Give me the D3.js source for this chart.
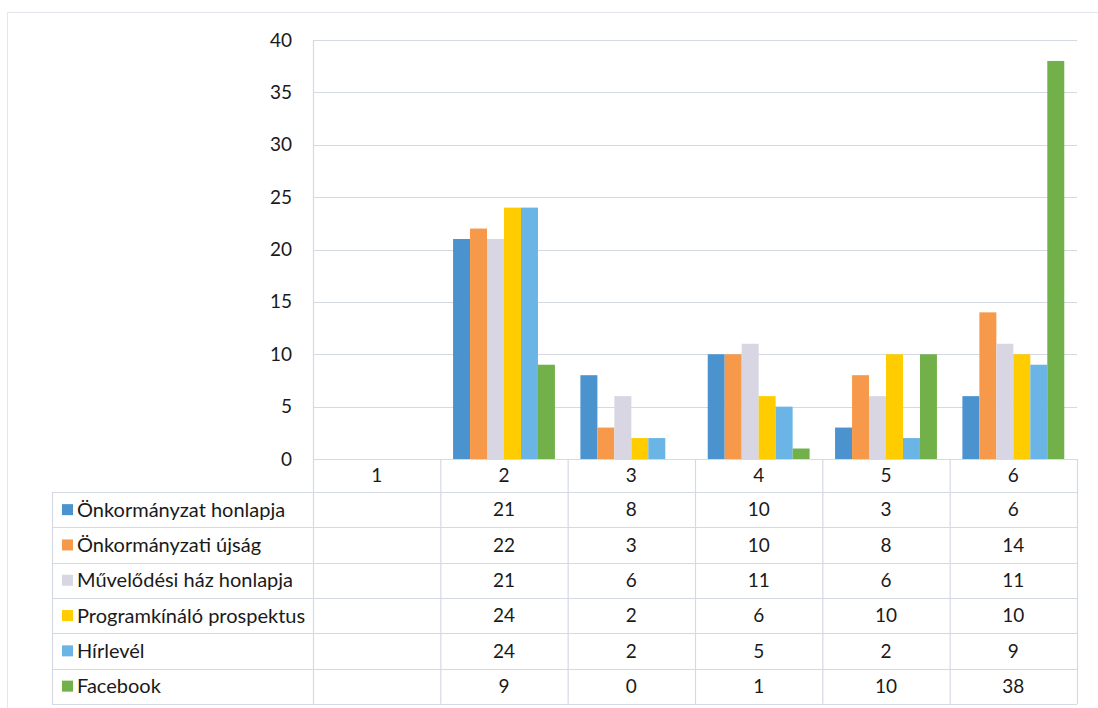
<!DOCTYPE html>
<html>
<head>
<meta charset="utf-8">
<script src="https://cdn.jsdelivr.net/npm/d3@7"></script>
<style>
  html, body { margin: 0; padding: 0; background: #ffffff; }
  svg { display: block; }
  text { font-family: Lato, "Open Sans", sans-serif; fill: #1a1a1a; }
</style>
</head>
<body>
<svg id="chart" width="1098" height="708"></svg>
<script>
// ---- data ----
const categories = ["1", "2", "3", "4", "5", "6"];
const seriesNames = [
  "Önkormányzat honlapja",
  "Önkormányzati újság",
  "Művelődési ház honlapja",
  "Programkínáló prospektus",
  "Hírlevél",
  "Facebook"
];
const onkormanyzatHonlapja = [null, 21, 8, 10, 3, 6];
const onkormanyzatiUjsag   = [null, 22, 3, 10, 8, 14];
const muvelodesiHazHonlapja = [null, 21, 6, 11, 6, 11];
const programkinaloProspektus = [null, 24, 2, 6, 10, 10];
const hirlevel = [null, 24, 2, 5, 2, 9];
const facebook = [null, 9, 0, 1, 10, 38];
const yTicks = [0, 5, 10, 15, 20, 25, 30, 35, 40];
const seriesColors = ["#4A93CF", "#F7994A", "#D8D6E2", "#FFCC00", "#6AB4E6", "#72B04A"];

const seriesValues = [onkormanyzatHonlapja, onkormanyzatiUjsag, muvelodesiHazHonlapja,
                      programkinaloProspektus, hirlevel, facebook];

// ---- layout ----
const svg = d3.select("#chart");
const plotLeft = 313, plotRight = 1077, plotTop = 40, plotBottom = 459;
const tableLeft = 52;
const headerH = 33;
const rowH = 35.3;
const lineColor = "#D5D9E3";

const x = d3.scaleBand().domain(categories).range([plotLeft, plotRight]).paddingInner(0).paddingOuter(0);
const y = d3.scaleLinear().domain([0, 40]).range([plotBottom, plotTop]);
const groupW = x.bandwidth() / 1.25;
const xs = d3.scaleBand().domain(seriesNames).range([0, groupW]).padding(0);

// chart area faint border
svg.append("path")
  .attr("d", `M7.5,708 V12.5 H1098`)
  .attr("fill", "none").attr("stroke", "#E4E6EC").attr("stroke-width", 1);

// gridlines
svg.append("g").selectAll("line").data(yTicks.filter(d => d > 0)).join("line")
  .attr("x1", plotLeft).attr("x2", plotRight)
  .attr("y1", d => Math.round(y(d)) + 0.5).attr("y2", d => Math.round(y(d)) + 0.5)
  .attr("stroke", lineColor).attr("stroke-width", 1.2);

// y axis labels
const yAxis = d3.axisLeft(y).tickValues(yTicks).tickSize(0).tickPadding(21);
const gy = svg.append("g").attr("transform", `translate(${plotLeft},0)`).call(yAxis);
gy.select(".domain").remove();
gy.selectAll("text").attr("font-size", 19).attr("font-family", "Lato, 'Open Sans', sans-serif").attr("fill", "#1a1a1a");

// bars
const barData = [];
seriesNames.forEach((s, i) => {
  categories.forEach((c, j) => {
    const v = seriesValues[i][j];
    if (v !== null && v > 0) barData.push({ series: s, cat: c, value: v, color: seriesColors[i] });
  });
});
svg.append("g").selectAll("rect").data(barData).join("rect")
  .attr("x", d => x(d.cat) + (x.bandwidth() - groupW) / 2 + xs(d.series))
  .attr("width", xs.bandwidth())
  .attr("y", d => y(d.value))
  .attr("height", d => y(0) - y(d.value))
  .attr("fill", d => d.color);

// table
const tableBottom = plotBottom + headerH + rowH * seriesNames.length;
const tbl = svg.append("g");
tbl.append("line").attr("x1", plotLeft + 0.5).attr("x2", plotLeft + 0.5)
  .attr("y1", plotTop).attr("y2", tableBottom).attr("stroke", lineColor).attr("stroke-width", 1.2);
tbl.selectAll("line.v").data(categories.slice(1).concat(["end"])).join("line").attr("class", "v")
  .attr("x1", d => (d === "end" ? plotRight : x(d)) + 0.5)
  .attr("x2", d => (d === "end" ? plotRight : x(d)) + 0.5)
  .attr("y1", plotBottom).attr("y2", tableBottom)
  .attr("stroke", lineColor).attr("stroke-width", 1.2);
tbl.append("line").attr("x1", tableLeft + 0.5).attr("x2", tableLeft + 0.5)
  .attr("y1", plotBottom + headerH).attr("y2", tableBottom).attr("stroke", lineColor).attr("stroke-width", 1.2);
tbl.append("line").attr("x1", plotLeft).attr("x2", plotRight)
  .attr("y1", plotBottom + 0.5).attr("y2", plotBottom + 0.5).attr("stroke", lineColor).attr("stroke-width", 1.2);
tbl.selectAll("line.h").data(d3.range(seriesNames.length + 1)).join("line").attr("class", "h")
  .attr("x1", tableLeft).attr("x2", plotRight)
  .attr("y1", i => Math.round(plotBottom + headerH + i * rowH) + 0.5)
  .attr("y2", i => Math.round(plotBottom + headerH + i * rowH) + 0.5)
  .attr("stroke", lineColor).attr("stroke-width", 1.2);

// header labels
tbl.selectAll("text.cat").data(categories).join("text").attr("class", "cat")
  .attr("x", d => x(d) + x.bandwidth() / 2)
  .attr("y", plotBottom + headerH / 2)
  .attr("dy", "0.36em").attr("text-anchor", "middle").attr("font-size", 19)
  .text(d => d);

// rows
seriesNames.forEach((s, i) => {
  const cy = plotBottom + headerH + i * rowH + rowH / 2;
  const row = tbl.append("g");
  row.append("rect").attr("x", 62).attr("y", cy - 5.5).attr("width", 11).attr("height", 11)
    .attr("fill", seriesColors[i]);
  row.append("text").attr("x", 77).attr("y", cy).attr("dy", "0.36em")
    .attr("font-size", 20).text(s);
  categories.forEach((c, j) => {
    const v = seriesValues[i][j];
    if (v === null) return;
    row.append("text").attr("x", x(c) + x.bandwidth() / 2).attr("y", cy).attr("dy", "0.36em")
      .attr("text-anchor", "middle").attr("font-size", 19).text(v);
  });
});
</script>
</body>
</html>
